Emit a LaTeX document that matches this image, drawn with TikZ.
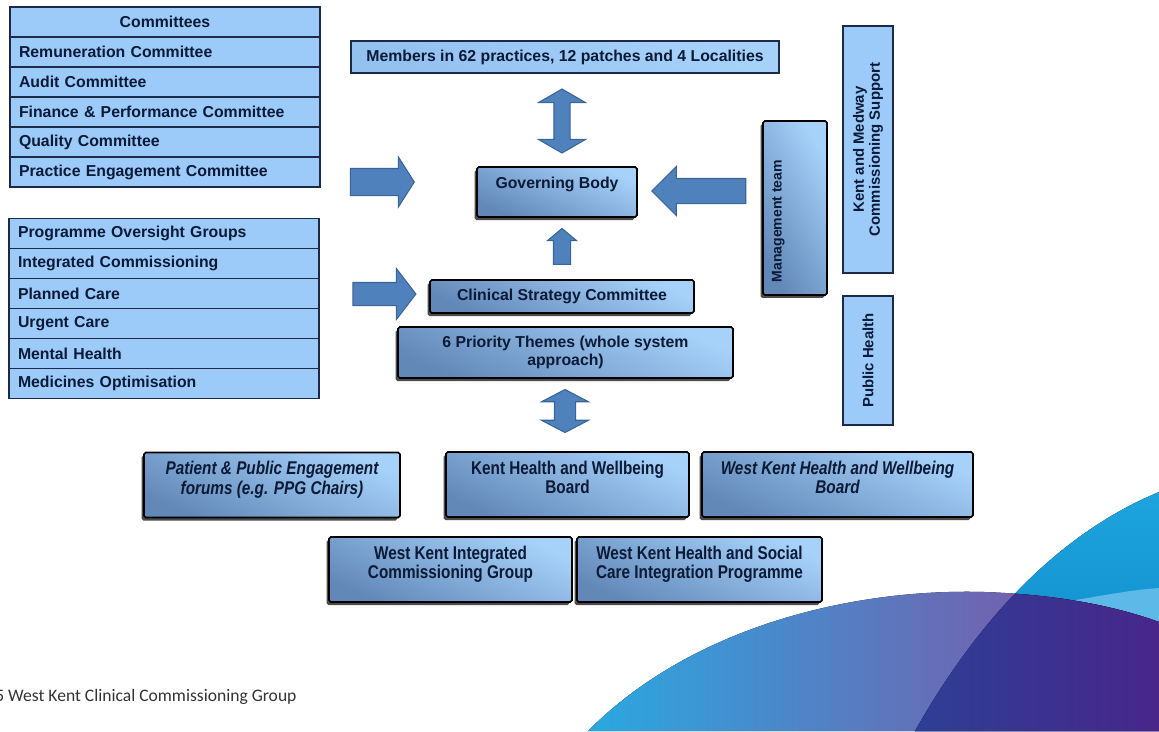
\documentclass[tikz,border=0pt]{standalone}
\usepackage{fontspec}
\setmainfont{Liberation Sans}
\newfontfamily\narrowfont{Liberation Sans}[FakeStretch=0.83]
\newfontfamily\footfont{Carlito}
\usetikzlibrary{arrows.meta,positioning,shapes.arrows,shadows}
\definecolor{Ink}{HTML}{0B1A36}
\definecolor{TableBlue}{HTML}{9CCBFA}
\definecolor{TableLine}{HTML}{1B2A47}
\definecolor{BoxHi}{HTML}{A6D2FA}
\definecolor{BoxLo}{HTML}{6288B8}
\definecolor{ArrowFill}{HTML}{4F81BD}
\definecolor{ArrowLine}{HTML}{3A6496}
\definecolor{SwBlue}{HTML}{2AA8E1}
\definecolor{SwMid}{HTML}{5A70B6}
\definecolor{SwViolet}{HTML}{8A4A9E}
\definecolor{SwCyan}{HTML}{1DA4DD}
\definecolor{SwCyanLo}{HTML}{0D86C8}
\definecolor{SwLight}{HTML}{5DB9E8}
\definecolor{SwDeepBlue}{HTML}{2D3F96}
\definecolor{SwDeep}{HTML}{48268A}
\definecolor{FootGrey}{HTML}{333333}
\newcommand{\boxtext}[3]{\parbox[c][#1][t]{#2}{\centering #3}}
\tikzset{
  cell/.style={draw=TableLine,line width=0.8pt,fill=TableBlue,minimum width=6.2cm,minimum height=0.6cm,inner sep=0pt,outer sep=0pt,text width=5.84cm,align=left,font=\fontsize{9}{10.5}\selectfont\bfseries,text=Ink},
  flatbox/.style={draw=TableLine,line width=0.8pt,fill=TableBlue,inner sep=0pt,font=\fontsize{8.5}{9.2}\selectfont\bfseries,text=Ink},
  shadebox/.style={draw=black,line width=0.9pt,rounded corners=1pt,top color=BoxHi,bottom color=BoxLo,shading angle=-25,drop shadow={shadow xshift=-0.05cm,shadow yshift=-0.06cm,fill=black,opacity=0.7},inner sep=0pt,font=\fontsize{9}{9.8}\selectfont\bfseries,text=Ink},
  lowbox/.style={shadebox,minimum height=1.3cm,font=\narrowfont\fontsize{10.5}{11}\selectfont\bfseries},
  blockarrow/.style={single arrow,fill=ArrowFill,draw=ArrowLine,line width=0.6pt,inner xsep=0pt},
  twoarrow/.style={double arrow,fill=ArrowFill,draw=ArrowLine,line width=0.6pt,inner xsep=0pt,rotate=90}
}

\begin{document}
\begin{tikzpicture}[x=0.02cm,y=-0.02cm]
  \useasboundingbox (0,0) rectangle (1159,731);

  % corner swoosh
  \fill[top color=SwCyan,bottom color=SwCyanLo] (915,731) .. controls (975,625) and (1055,535) .. (1159,492) -- (1159,731) -- cycle;
  \fill[SwLight] (1070,601) .. controls (1100,596) and (1130,590) .. (1159,588) -- (1159,622) .. controls (1130,613) and (1100,606) .. (1070,601) -- cycle;
  \fill[left color=SwBlue,middle color=SwMid,right color=SwViolet] (588,731) .. controls (690,628) and (850,588) .. (985,592) .. controls (1065,595) and (1120,608) .. (1159,622) -- (1159,731) -- cycle;
  \begin{scope}
    \clip (588,731) .. controls (690,628) and (850,588) .. (985,592) .. controls (1065,595) and (1120,608) .. (1159,622) -- (1159,731) -- cycle;
    \fill[left color=SwDeepBlue,middle color=SwDeep,right color=SwDeep] (915,731) .. controls (975,625) and (1055,535) .. (1159,492) -- (1159,731) -- cycle;
  \end{scope}

  % committees
  \node[cell,align=center] (comHead) at (165,22) {Committees};
  \node[cell,below=0pt of comHead] (remCom) {Remuneration Committee};
  \node[cell,below=0pt of remCom] (audCom) {Audit Committee};
  \node[cell,below=0pt of audCom] (finCom) {Finance \& Performance Committee};
  \node[cell,below=0pt of finCom] (qualCom) {Quality Committee};
  \node[cell,below=0pt of qualCom] (pracCom) {Practice Engagement Committee};

  % programme oversight groups
  \node[cell] (progHead) at (164,233.5) {Programme Oversight Groups};
  \node[cell,below=0pt of progHead] (intProg) {Integrated Commissioning};
  \node[cell,below=0pt of intProg] (planProg) {Planned Care};
  \node[cell,below=0pt of planProg] (urgProg) {Urgent Care};
  \node[cell,below=0pt of urgProg] (mentProg) {Mental Health};
  \node[cell,below=0pt of mentProg] (medProg) {Medicines Optimisation};

  % centre column
  \node[draw=TableLine,line width=0.8pt,top color=BoxHi,bottom color=TableBlue!85!BoxLo,shading angle=-30,inner sep=0pt,minimum width=8.56cm,minimum height=0.64cm,font=\fontsize{9}{10.5}\selectfont\bfseries,text=Ink] (members) at (565,57) {Members in 62 practices, 12 patches and 4 Localities};
  \node[shadebox,minimum width=3.2cm,minimum height=1cm] (gov) at (557,192) {\boxtext{0.6cm}{3cm}{Governing Body}};
  \node[shadebox,minimum width=5.28cm,minimum height=0.66cm] (clinical) at (562,296.5) {Clinical Strategy Committee};
  \node[shadebox,minimum width=6.7cm,minimum height=1.02cm,align=center] (themes) at (565.5,352.5) {6 Priority Themes (whole system\\approach)};

  % right column
  \node[shadebox,rotate=90,shading angle=-60,minimum width=3.48cm,minimum height=1.28cm,font=\fontsize{8}{9}\selectfont\bfseries] (mgmt) at (795,208) {\parbox[c][0.92cm][t]{3.1cm}{\raggedright\hspace*{0.06cm}Management team}};
  \node[flatbox,rotate=90,minimum width=4.94cm,minimum height=1cm,align=center] (kms) at (868,149.5) {Kent and Medway\\Commissioning Support};
  \node[flatbox,rotate=90,minimum width=2.58cm,minimum height=1cm] (pubHealth) at (868,360.5) {Public Health};

  % block arrows
  \node[twoarrow,minimum height=1.28cm,inner ysep=0.15cm,double arrow head extend=0.31cm,double arrow tip angle=120] (memArrow) at (562,121) {};
  \node[blockarrow,minimum height=1.28cm,inner ysep=0.26cm,single arrow head extend=0.23cm,single arrow tip angle=115] (comArrow) at (378,182) {};
  \node[blockarrow,rotate=180,minimum height=1.88cm,inner ysep=0.24cm,single arrow head extend=0.24cm,single arrow tip angle=90] (mgmtArrow) at (705,191) {};
  \node[blockarrow,rotate=90,minimum height=0.72cm,inner ysep=0.16cm,single arrow head extend=0.12cm,single arrow tip angle=100] (clinArrow) at (562,250) {};
  \node[blockarrow,minimum height=1.26cm,inner ysep=0.22cm,single arrow head extend=0.28cm,single arrow tip angle=105] (progArrow) at (380,294) {};
  \node[twoarrow,minimum height=0.86cm,inner ysep=0.2cm,double arrow head extend=0.26cm,double arrow tip angle=125] (themeArrow) at (565,411) {};

  % partner boards
  \node[lowbox,minimum width=5.12cm] (ppe) at (272,485) {\boxtext{0.94cm}{4.9cm}{\itshape Patient \& Public Engagement\\forums (e.g. PPG Chairs)}};
  \node[lowbox,minimum width=4.86cm] (khwb) at (567.5,484.5) {\boxtext{0.94cm}{4.6cm}{Kent Health and Wellbeing\\Board}};
  \node[lowbox,minimum width=5.42cm] (wkhwb) at (837.5,484.5) {\boxtext{0.94cm}{5.2cm}{\itshape West Kent Health and Wellbeing\\Board}};
  \node[lowbox,minimum width=4.86cm] (wkicg) at (450.5,569.5) {\boxtext{0.94cm}{4.6cm}{West Kent Integrated\\Commissioning Group}};
  \node[lowbox,minimum width=4.9cm] (wkhsc) at (699.5,569.5) {\boxtext{0.94cm}{4.7cm}{West Kent Health and Social\\Care Integration Programme}};

  % footer
  \node[anchor=west,inner sep=0pt,font=\footfont\fontsize{10}{11}\selectfont,text=FootGrey] (footer) at (-5,697) {5 West Kent Clinical Commissioning Group};
\end{tikzpicture}
\end{document}
